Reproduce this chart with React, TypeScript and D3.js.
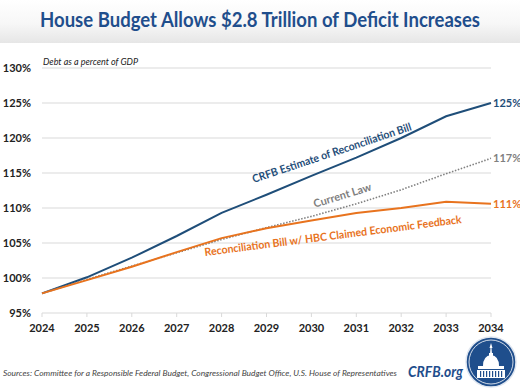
import React from "react";
import * as d3 from "d3";

const years = [2024, 2025, 2026, 2027, 2028, 2029, 2030, 2031, 2032, 2033, 2034];
const crfbEstimate = [97.8, 100.1, 102.9, 106.0, 109.3, 111.9, 114.6, 117.2, 120.0, 123.1, 125.0];
const currentLaw = [97.8, 99.8, 101.7, 103.6, 105.5, 107.2, 108.8, 110.6, 112.6, 114.9, 117.1];
const hbcClaimed = [97.8, 99.7, 101.6, 103.7, 105.7, 107.1, 108.2, 109.3, 110.0, 110.9, 110.6];
const yTicks = [95, 100, 105, 110, 115, 120, 125, 130];
const endLabels = ["125%", "117%", "111%"];

const W = 520;
const H = 390;
const BLUE = "#1f4e79";
const TITLE_BLUE = "#1f4e8c";
const ORANGE = "#e8731e";
const GRAY = "#808080";
const FONT = "Lato, 'Open Sans', sans-serif";

export default function App() {
  const x = d3.scaleLinear().domain([2024, 2034]).range([42, 491]);
  const y = d3.scaleLinear().domain([95, 130]).range([313, 68]);
  const line = d3
    .line<number>()
    .x((_, i) => x(years[i]))
    .y((d) => y(d));

  const last = years.length - 1;
  const series = [
    { vals: crfbEstimate, color: BLUE, dash: undefined, width: 2 },
    { vals: currentLaw, color: GRAY, dash: "1.5,1.6", width: 1.6 },
    { vals: hbcClaimed, color: ORANGE, dash: undefined, width: 2 },
  ];

  return (
    <svg
      width={W}
      height={H}
      style={{ position: "absolute", left: 0, top: 0, background: "#fff" }}
      fontFamily={FONT}
    >
      <defs>
        <linearGradient id="hdr" x1="0" y1="0" x2="0" y2="1">
          <stop offset="0" stopColor="#ffffff" />
          <stop offset="0.55" stopColor="#f7f7f7" />
          <stop offset="1" stopColor="#e6e6e6" />
        </linearGradient>
      </defs>
      <rect x={0} y={0} width={W} height={H} fill="#fff" />
      <rect x={0} y={0} width={W} height={43} fill="url(#hdr)" />
      <text
        x={260}
        y={27}
        textAnchor="middle"
        fontSize={20}
        fontWeight="bold"
        fill={TITLE_BLUE}
        textLength={440}
        lengthAdjust="spacingAndGlyphs"
      >
        House Budget Allows $2.8 Trillion of Deficit Increases
      </text>

      {/* gridlines */}
      {yTicks.map((t) => (
        <line
          key={t}
          x1={42}
          x2={491}
          y1={y(t)}
          y2={y(t)}
          stroke="#d9d9d9"
          strokeWidth={1}
        />
      ))}
      {years.map((yr) => (
        <line
          key={yr}
          x1={x(yr)}
          x2={x(yr)}
          y1={y(95)}
          y2={y(95) + 4}
          stroke="#d9d9d9"
          strokeWidth={1}
        />
      ))}

      {/* y tick labels */}
      {yTicks.map((t) => (
        <text
          key={t}
          x={31}
          y={y(t) + 4}
          textAnchor="end"
          fontSize={11}
          fontWeight="bold"
          fill="#222"
        >
          {t}%
        </text>
      ))}
      {/* x tick labels */}
      {years.map((yr) => (
        <text
          key={yr}
          x={x(yr)}
          y={332}
          textAnchor="middle"
          fontSize={11}
          fontWeight="bold"
          fill="#222"
        >
          {yr}
        </text>
      ))}

      <text x={43} y={65} fontSize={9} fontStyle="italic" fill="#222">
        Debt as a percent of GDP
      </text>

      {/* lines */}
      {series.map((s, i) => (
        <path
          key={i}
          d={line(s.vals) || ""}
          fill="none"
          stroke={s.color}
          strokeWidth={s.width}
          strokeDasharray={s.dash}
        />
      ))}

      {/* end labels */}
      {series.map((s, i) => (
        <text
          key={i}
          x={x(years[last]) + 2}
          y={y(s.vals[last]) + 4}
          fontSize={11}
          fontWeight="bold"
          fill={s.color}
        >
          {endLabels[i]}
        </text>
      ))}

      {/* inline series labels */}
      <text
        transform="translate(333,156.5) rotate(-18.5)"
        textAnchor="middle"
        fontSize={11}
        fontWeight="bold"
        fill={BLUE}
        textLength={167}
        lengthAdjust="spacingAndGlyphs"
      >
        CRFB Estimate of Reconciliation Bill
      </text>
      <text
        transform="translate(343.5,199) rotate(-17)"
        textAnchor="middle"
        fontSize={11}
        fontWeight="bold"
        fill={GRAY}
        textLength={60}
        lengthAdjust="spacingAndGlyphs"
      >
        Current Law
      </text>
      <text
        transform="translate(333.5,239.5) rotate(-7.3)"
        textAnchor="middle"
        fontSize={11}
        fontWeight="bold"
        fill={ORANGE}
        textLength={259}
        lengthAdjust="spacingAndGlyphs"
      >
        Reconciliation Bill w/ HBC Claimed Economic Feedback
      </text>

      {/* footer */}
      <text
        x={3}
        y={376}
        fontSize={8.5}
        fontStyle="italic"
        fill="#444"
        textLength={394}
        lengthAdjust="spacingAndGlyphs"
      >
        Sources: Committee for a Responsible Federal Budget, Congressional Budget Office, U.S. House of Representatives
      </text>
      <text
        x={408}
        y={377}
        fontSize={15.5}
        fontWeight="bold"
        fontStyle="italic"
        fill={TITLE_BLUE}
        textLength={55}
        lengthAdjust="spacingAndGlyphs"
      >
        CRFB.org
      </text>

      {/* logo */}
      <g transform="translate(491,362)">
        <circle r={25} fill={TITLE_BLUE} stroke="#dfe6f0" strokeWidth={1.5} />
        <circle r={22} fill="none" stroke="#ffffff" strokeWidth={0.8} />
        <path d="M0,-19 L1.5,-14 L0.5,-14 L1,-8 L-1,-8 L-0.5,-14 L-1.5,-14 Z" fill="#fff" />
        <path d="M-8,4 Q-8,-6 0,-7 Q8,-6 8,4 Z" fill="#fff" />
        <rect x={-2} y={-9} width={4} height={3} fill="#fff" />
        <rect x={-13} y={4} width={26} height={3} fill="#fff" />
        <rect x={-14} y={8} width={28} height={8} fill="#fff" />
        {[-11, -8, -5, -2, 1, 4, 7, 10].map((cx) => (
          <rect key={cx} x={cx} y={9} width={1.2} height={6} fill={TITLE_BLUE} />
        ))}
      </g>
    </svg>
  );
}
